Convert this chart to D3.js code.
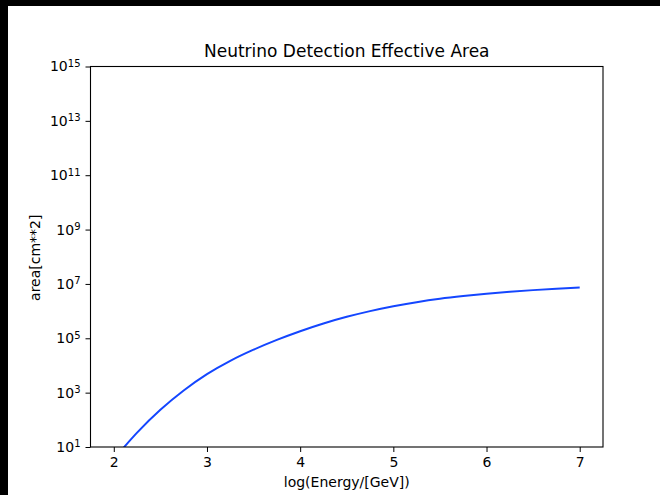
<!DOCTYPE html>
<html>
<head>
<meta charset="utf-8">
<script src="https://cdn.jsdelivr.net/npm/d3@7"></script>
<style>
html,body{margin:0;padding:0;background:#000;}
svg{display:block;}
text{font-family:"DejaVu Sans",sans-serif;fill:#000;}
</style>
</head>
<body>
<svg id="chart" width="660" height="495"></svg>
<script>
const logEnergy = [2.0,2.25,2.5,2.75,3.0,3.25,3.5,3.75,4.0,4.25,4.5,4.75,5.0,5.25,5.5,5.75,6.0,6.25,6.5,6.75,7.0];
const area = [3.55,33.9,234,1202,4786,14790,38020,87100,181970,350750,616600,1000000,1513560,2137960,2851000,3589200,4365160,5152300,5915600,6668100,7413100];
const xTicks = [2,3,4,5,6,7];
const yTicks = [1e1,1e3,1e5,1e7,1e9,1e11,1e13,1e15];
const yTickExp = ["1","3","5","7","9","11","13","15"];
const title = "Neutrino Detection Effective Area";
const xLabel = "log(Energy/[GeV])";
const yLabel = "area[cm**2]";

const svg = d3.select("#chart");
svg.append("rect").attr("x",8).attr("y",6).attr("width",652).attr("height",489).attr("fill","#fff");

const L=90.5, R=603, T=66.5, B=447;
const x = d3.scaleLinear().domain([1.75,7.25]).range([L,R]);
const y = d3.scaleLog().domain([1e1,1e15]).range([B,T]);

svg.append("defs").append("clipPath").attr("id","clip")
  .append("rect").attr("x",L).attr("y",T).attr("width",R-L).attr("height",B-T);

const data = logEnergy.map((e,i)=>({e, a: area[i]}));
const line = d3.line().x(d=>x(d.e)).y(d=>y(d.a)).curve(d3.curveCatmullRom.alpha(0.5));
svg.append("path").datum(data).attr("d",line)
  .attr("clip-path","url(#clip)")
  .attr("fill","none").attr("stroke","#1446ff").attr("stroke-width",2);

const gx = svg.append("g").attr("transform",`translate(0,${B})`)
  .call(d3.axisBottom(x).tickValues(xTicks).tickFormat(d3.format("d")).tickSize(5).tickPadding(5));
gx.select(".domain").remove();
gx.selectAll("line").attr("stroke","#000").attr("stroke-width",1);
gx.selectAll("text").attr("font-size","14px").attr("font-family","DejaVu Sans");

const gy = svg.append("g").attr("transform",`translate(${L},0)`)
  .call(d3.axisLeft(y).tickValues(yTicks).tickFormat("").tickSize(5));
gy.select(".domain").remove();
gy.selectAll("line").attr("stroke","#000").attr("stroke-width",1);
gy.selectAll(".tick").each(function(d,i){
  const t = d3.select(this).append("text")
    .attr("x",-10).attr("dy","0.32em").attr("text-anchor","end")
    .attr("font-size","14px").attr("font-family","DejaVu Sans");
  t.append("tspan").text("10");
  t.append("tspan").attr("dy","-0.45em").attr("font-size","10px").text(yTickExp[i]);
});

svg.append("rect").attr("x",L).attr("y",T).attr("width",R-L).attr("height",B-T)
  .attr("fill","none").attr("stroke","#000").attr("stroke-width",1.1);

svg.append("text").attr("x",(L+R)/2).attr("y",56.5).attr("text-anchor","middle")
  .attr("font-size","17px").text(title);
svg.append("text").attr("x",(L+R)/2).attr("y",487).attr("text-anchor","middle")
  .attr("font-size","14px").text(xLabel);
svg.append("text").attr("transform",`translate(40,${(T+B)/2 + 1}) rotate(-90)`)
  .attr("text-anchor","middle").attr("font-size","14px").text(yLabel);
</script>
</body>
</html>
